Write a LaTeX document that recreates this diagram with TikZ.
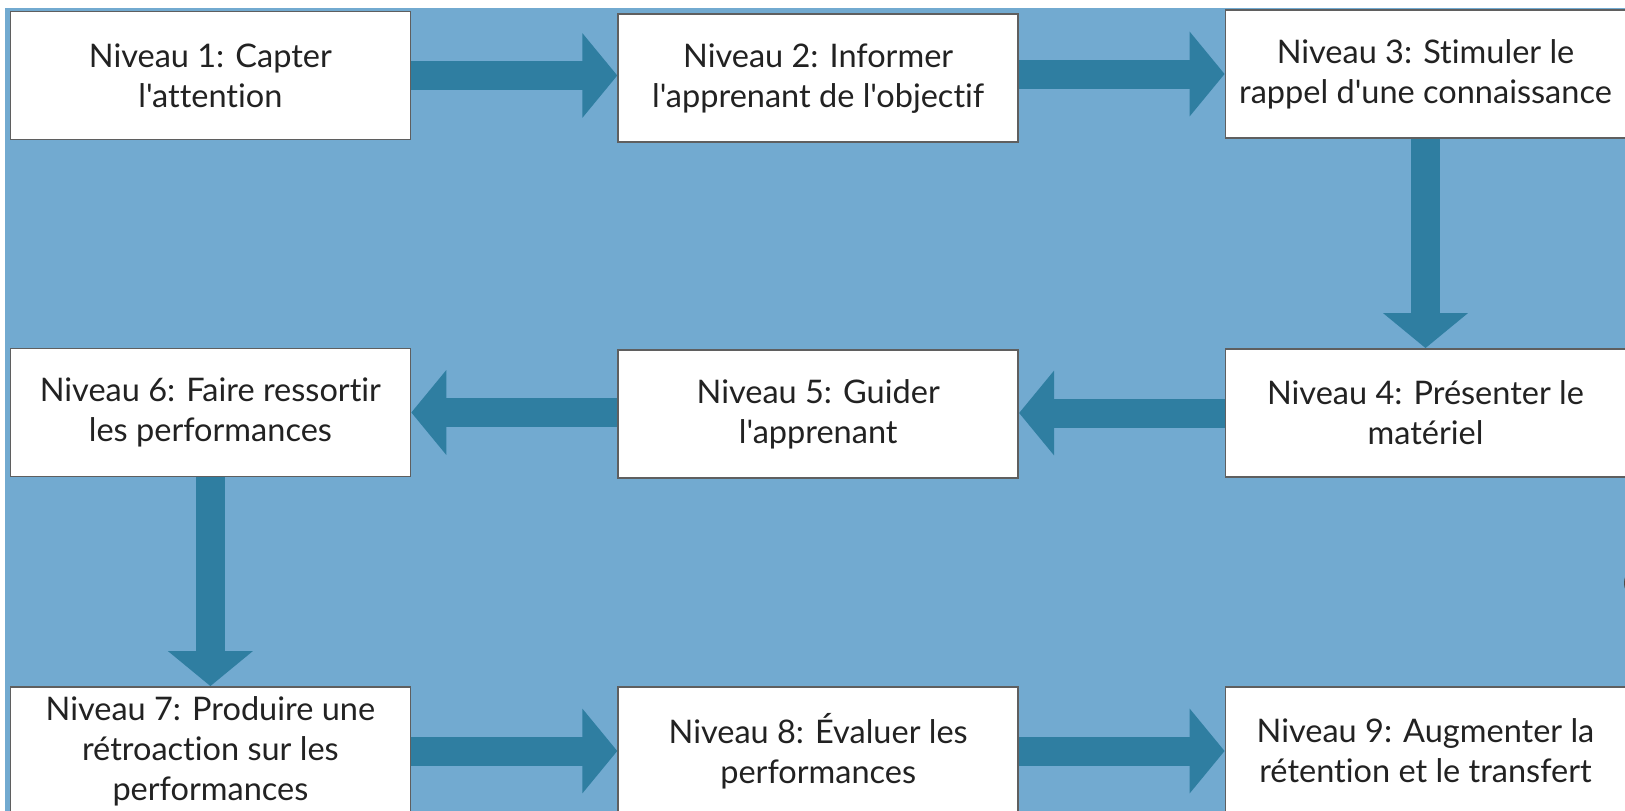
\documentclass[tikz,border=0pt]{standalone}
\usepackage{fontspec}
\newfontfamily\lato{Lato}[Ligatures={NoCommon}]
\usetikzlibrary{arrows.meta}
\definecolor{bg}{RGB}{114,170,208}
\definecolor{arr}{RGB}{47,126,161}
\definecolor{bord}{RGB}{95,95,95}
\definecolor{txt}{RGB}{34,34,34}
\begin{document}
\begin{tikzpicture}[x=1pt,y=-1pt,
  box/.style={draw=bord, line width=1.8pt, fill=white, minimum width=400pt,
    minimum height=128pt, align=center, inner sep=0pt,
    font=\lato\fontsize{32.5}{40}\selectfont, text=txt},
  flow/.style={draw=arr, line width=29pt, -{Triangle[length=35pt,width=83pt]}}]
\useasboundingbox (0,0) rectangle (1625,811);
\clip (0,0) rectangle (1625,811);
\fill[white] (0,0) rectangle (1625,811);
\fill[bg] (5,8) rectangle (1625,811);
\fill[gray!60!black] (1642,583) circle (18);

\node[box] (n1) at (210.4,75.5) {Niveau 1: Capter\\l'attention};
\node[box] (n2) at (818.2,78.3) {Niveau 2: Informer\\l'apprenant de l'objectif};
\node[box] (n3) at (1425.5,74) {Niveau 3: Stimuler le\\rappel d'une connaissance};
\node[box] (n4) at (1425.5,413) {Niveau 4: Présenter le\\matériel};
\node[box] (n5) at (818.2,414) {Niveau 5: Guider\\l'apprenant};
\node[box] (n6) at (210.4,412.5) {Niveau 6: Faire ressortir\\les performances};
\node[box] (n7) at (210.4,751) {Niveau 7: Produire une\\rétroaction sur les\\performances};
\node[box] (n8) at (818.2,751) {Niveau 8: Évaluer les\\performances};
\node[box] (n9) at (1425.5,751) {Niveau 9: Augmenter la\\rétention et le transfert};

\draw[flow] (n1.east) -- (n2.west |- n1.east);
\draw[flow] (n2.east |- n3.west) -- (n3.west);
\draw[flow] (n3.south) -- (n4.north);
\draw[flow] (n4.west) -- (n5.east |- n4.west);
\draw[flow] (n5.west |- n6.east) -- (n6.east);
\draw[flow] (n6.south) -- (n7.north);
\draw[flow] (n7.east) -- (n8.west);
\draw[flow] (n8.east) -- (n9.west);
\end{tikzpicture}
\end{document}
